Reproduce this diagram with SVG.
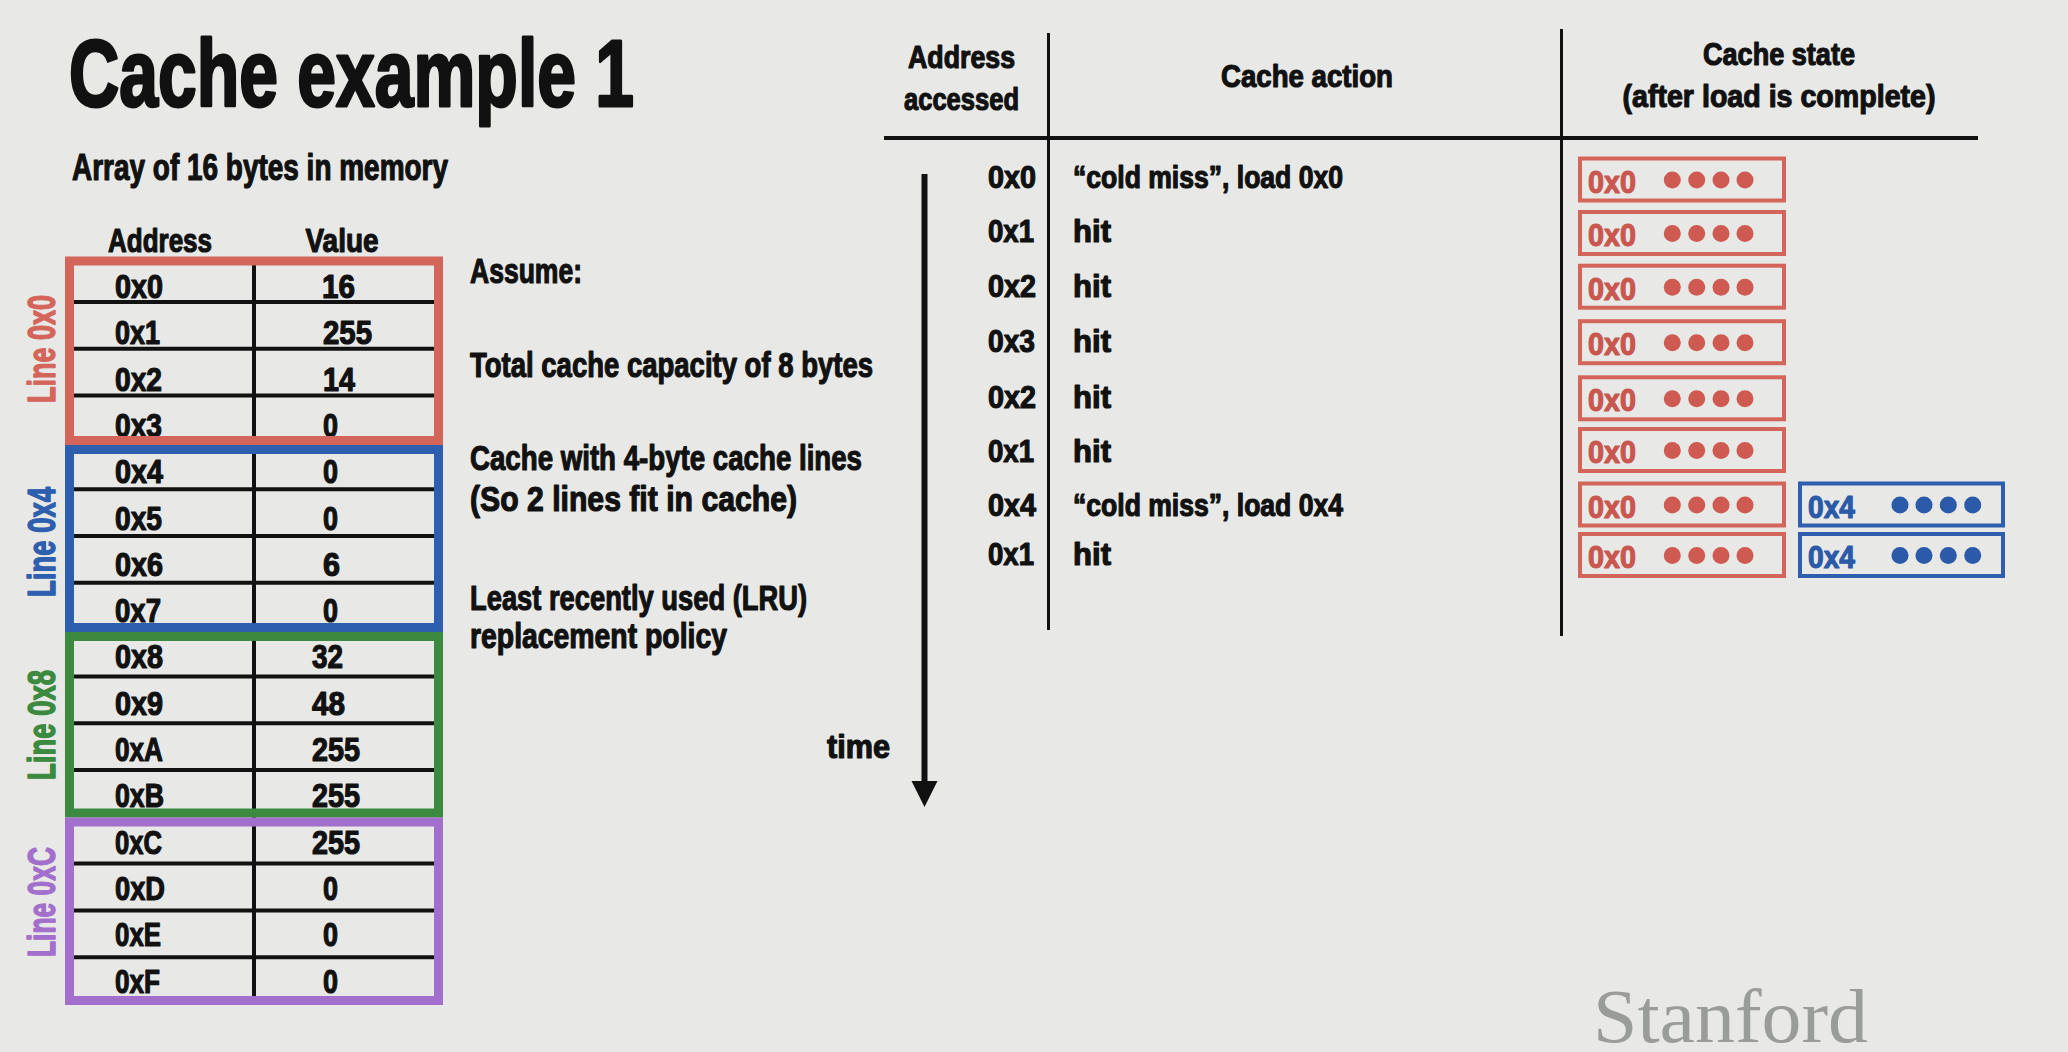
<svg xmlns="http://www.w3.org/2000/svg" width="2068" height="1052" viewBox="0 0 2068 1052">
<style>
.t{font-family:"Liberation Sans",Arial,sans-serif;font-weight:bold;fill:#111;stroke:#111;stroke-width:1.2;stroke-linejoin:round}
.c{font-size:33px}
.h{font-size:32px}
.s{font-size:35px}
.grid{stroke:#111;stroke-width:4}
.band{fill:none;stroke-width:9}
.red{stroke:#d4655b}.blue{stroke:#2e5fae}.green{stroke:#3b8a3f}.purple{stroke:#a36fcc}
.lbl{font-size:39px;text-anchor:middle;stroke-width:1.4}
.cbox{fill:none;stroke-width:4}
.rdot{fill:#cf5a51}.bdot{fill:#2a5aa8}
.rtx{fill:#c9574f;stroke:#c9574f}.btx{fill:#2a5aa8;stroke:#2a5aa8}
</style>
<defs>
<marker id="ah" markerUnits="userSpaceOnUse" markerWidth="27" markerHeight="27" refX="0" refY="13" orient="auto" viewBox="0 0 27 27">
<path d="M0,0 L26,13 L0,26 z" fill="#111"/>
</marker>
</defs>
<rect width="2068" height="1052" fill="#e8e9e6"/>

<g id="title"><text class="t" x="69" y="106" font-size="95" style="stroke-width:3" textLength="565" lengthAdjust="spacingAndGlyphs">Cache example 1</text></g>
<g id="subtitle"><text class="t" x="72" y="180" font-size="36" textLength="376" lengthAdjust="spacingAndGlyphs">Array of 16 bytes in memory</text></g>

<g id="memory-table">
<text class="t" x="160" y="252" font-size="34" text-anchor="middle" textLength="104" lengthAdjust="spacingAndGlyphs">Address</text>
<text class="t" x="342" y="252" font-size="34" text-anchor="middle" textLength="73" lengthAdjust="spacingAndGlyphs">Value</text>
<g class="grid">
<line x1="74" y1="302" x2="434" y2="302"/>
<line x1="74" y1="348.8" x2="434" y2="348.8"/>
<line x1="74" y1="395.6" x2="434" y2="395.6"/>
<line x1="74" y1="489.2" x2="434" y2="489.2"/>
<line x1="74" y1="536" x2="434" y2="536"/>
<line x1="74" y1="582.8" x2="434" y2="582.8"/>
<line x1="74" y1="676.4" x2="434" y2="676.4"/>
<line x1="74" y1="723.2" x2="434" y2="723.2"/>
<line x1="74" y1="770" x2="434" y2="770"/>
<line x1="74" y1="863.6" x2="434" y2="863.6"/>
<line x1="74" y1="910.4" x2="434" y2="910.4"/>
<line x1="74" y1="957.2" x2="434" y2="957.2"/>
<line x1="254" y1="258" x2="254" y2="1002"/>
</g>
<g class="t c">
<text x="115" y="298" textLength="48" lengthAdjust="spacingAndGlyphs">0x0</text>
<text x="115" y="344.3" textLength="45" lengthAdjust="spacingAndGlyphs">0x1</text>
<text x="115" y="390.6" textLength="47" lengthAdjust="spacingAndGlyphs">0x2</text>
<text x="115" y="436.9" textLength="47" lengthAdjust="spacingAndGlyphs">0x3</text>
<text x="115" y="483.2" textLength="48" lengthAdjust="spacingAndGlyphs">0x4</text>
<text x="115" y="529.5" textLength="47" lengthAdjust="spacingAndGlyphs">0x5</text>
<text x="115" y="575.8" textLength="48" lengthAdjust="spacingAndGlyphs">0x6</text>
<text x="115" y="622.1" textLength="46" lengthAdjust="spacingAndGlyphs">0x7</text>
<text x="115" y="668.4" textLength="48" lengthAdjust="spacingAndGlyphs">0x8</text>
<text x="115" y="714.7" textLength="48" lengthAdjust="spacingAndGlyphs">0x9</text>
<text x="115" y="761" textLength="48" lengthAdjust="spacingAndGlyphs">0xA</text>
<text x="115" y="807.3" textLength="49" lengthAdjust="spacingAndGlyphs">0xB</text>
<text x="115" y="853.6" textLength="47" lengthAdjust="spacingAndGlyphs">0xC</text>
<text x="115" y="899.9" textLength="50" lengthAdjust="spacingAndGlyphs">0xD</text>
<text x="115" y="946.2" textLength="46" lengthAdjust="spacingAndGlyphs">0xE</text>
<text x="115" y="992.5" textLength="45" lengthAdjust="spacingAndGlyphs">0xF</text>
<text x="322" y="298" textLength="33" lengthAdjust="spacingAndGlyphs">16</text>
<text x="323" y="344.3" textLength="49" lengthAdjust="spacingAndGlyphs">255</text>
<text x="323" y="390.6" textLength="32" lengthAdjust="spacingAndGlyphs">14</text>
<text x="323" y="436.9" textLength="15" lengthAdjust="spacingAndGlyphs">0</text>
<text x="323" y="483.2" textLength="15" lengthAdjust="spacingAndGlyphs">0</text>
<text x="323" y="529.5" textLength="15" lengthAdjust="spacingAndGlyphs">0</text>
<text x="323" y="575.8" textLength="17" lengthAdjust="spacingAndGlyphs">6</text>
<text x="323" y="622.1" textLength="15" lengthAdjust="spacingAndGlyphs">0</text>
<text x="312" y="668.4" textLength="31" lengthAdjust="spacingAndGlyphs">32</text>
<text x="312" y="714.7" textLength="33" lengthAdjust="spacingAndGlyphs">48</text>
<text x="312" y="761" textLength="48" lengthAdjust="spacingAndGlyphs">255</text>
<text x="312" y="807.3" textLength="48" lengthAdjust="spacingAndGlyphs">255</text>
<text x="312" y="853.6" textLength="48" lengthAdjust="spacingAndGlyphs">255</text>
<text x="323" y="899.9" textLength="15" lengthAdjust="spacingAndGlyphs">0</text>
<text x="323" y="946.2" textLength="15" lengthAdjust="spacingAndGlyphs">0</text>
<text x="323" y="992.5" textLength="15" lengthAdjust="spacingAndGlyphs">0</text>
</g>
</g>

<g id="line-0x0"><rect class="band red" x="69.5" y="261" width="369" height="179.5"/>
<text class="t lbl" style="fill:#d4655b;stroke:#d4655b" transform="translate(55,349) rotate(-90)" textLength="108" lengthAdjust="spacingAndGlyphs">Line 0x0</text></g>
<g id="line-0x4"><rect class="band blue" x="69.5" y="449.5" width="369" height="178"/>
<text class="t lbl" style="fill:#2e5fae;stroke:#2e5fae" transform="translate(55,542) rotate(-90)" textLength="110" lengthAdjust="spacingAndGlyphs">Line 0x4</text></g>
<g id="line-0x8"><rect class="band green" x="69.5" y="636.5" width="369" height="176.5"/>
<text class="t lbl" style="fill:#3b8a3f;stroke:#3b8a3f" transform="translate(55,725) rotate(-90)" textLength="110" lengthAdjust="spacingAndGlyphs">Line 0x8</text></g>
<g id="line-0xC"><rect class="band purple" x="69.5" y="822" width="369" height="178.5"/>
<text class="t lbl" style="fill:#a36fcc;stroke:#a36fcc" transform="translate(55,902) rotate(-90)" textLength="110" lengthAdjust="spacingAndGlyphs">Line 0xC</text></g>

<g id="assumptions" class="t s">
<text x="470" y="283" textLength="112" lengthAdjust="spacingAndGlyphs">Assume:</text>
<text x="470" y="377" textLength="403" lengthAdjust="spacingAndGlyphs">Total cache capacity of 8 bytes</text>
<text x="470" y="470" textLength="392" lengthAdjust="spacingAndGlyphs">Cache with 4-byte cache lines</text>
<text x="470" y="511" textLength="327" lengthAdjust="spacingAndGlyphs">(So 2 lines fit in cache)</text>
<text x="470" y="610" textLength="337" lengthAdjust="spacingAndGlyphs">Least recently used (LRU)</text>
<text x="470" y="648" textLength="257" lengthAdjust="spacingAndGlyphs">replacement policy</text>
</g>

<g id="connectors">
<line x1="884" y1="138" x2="1978" y2="138" stroke="#111" stroke-width="4"/>
<line x1="1048.5" y1="33" x2="1048.5" y2="630" stroke="#111" stroke-width="3"/>
<line x1="1561.5" y1="29" x2="1561.5" y2="636" stroke="#111" stroke-width="3"/>
<line id="time-arrow" x1="924.5" y1="174" x2="924.5" y2="781" stroke="#111" stroke-width="6" marker-end="url(#ah)"/>
</g>

<g id="time-label"><text class="t" x="827" y="758" font-size="33" textLength="63" lengthAdjust="spacingAndGlyphs">time</text></g>

<g id="headers" class="t h">
<text x="961.5" y="68" text-anchor="middle" textLength="107" lengthAdjust="spacingAndGlyphs">Address</text>
<text x="961.5" y="110" text-anchor="middle" textLength="115" lengthAdjust="spacingAndGlyphs">accessed</text>
<text x="1307" y="87" text-anchor="middle" textLength="172" lengthAdjust="spacingAndGlyphs">Cache action</text>
<text x="1779" y="65" text-anchor="middle" textLength="152" lengthAdjust="spacingAndGlyphs">Cache state</text>
<text x="1779" y="107" text-anchor="middle" textLength="313" lengthAdjust="spacingAndGlyphs">(after load is complete)</text>
</g>

<g id="accesses" class="t h">
<text x="988" y="188" textLength="48" lengthAdjust="spacingAndGlyphs">0x0</text>
<text x="988" y="242" textLength="46" lengthAdjust="spacingAndGlyphs">0x1</text>
<text x="988" y="297" textLength="48" lengthAdjust="spacingAndGlyphs">0x2</text>
<text x="988" y="352" textLength="47" lengthAdjust="spacingAndGlyphs">0x3</text>
<text x="988" y="408" textLength="48" lengthAdjust="spacingAndGlyphs">0x2</text>
<text x="988" y="462" textLength="46" lengthAdjust="spacingAndGlyphs">0x1</text>
<text x="988" y="516" textLength="48" lengthAdjust="spacingAndGlyphs">0x4</text>
<text x="988" y="565" textLength="46" lengthAdjust="spacingAndGlyphs">0x1</text>
</g>

<g id="actions" class="t h">
<text x="1073" y="188" textLength="270" lengthAdjust="spacingAndGlyphs">“cold miss”, load 0x0</text>
<text x="1073" y="242" textLength="38" lengthAdjust="spacingAndGlyphs">hit</text>
<text x="1073" y="297" textLength="38" lengthAdjust="spacingAndGlyphs">hit</text>
<text x="1073" y="352" textLength="38" lengthAdjust="spacingAndGlyphs">hit</text>
<text x="1073" y="408" textLength="38" lengthAdjust="spacingAndGlyphs">hit</text>
<text x="1073" y="462" textLength="38" lengthAdjust="spacingAndGlyphs">hit</text>
<text x="1073" y="516" textLength="270" lengthAdjust="spacingAndGlyphs">“cold miss”, load 0x4</text>
<text x="1073" y="565" textLength="38" lengthAdjust="spacingAndGlyphs">hit</text>
</g>

<g id="cache-state">
<g id="cs1" transform="translate(0,179.5)"><rect class="cbox red" x="1580" y="-21" width="204" height="42"/><text class="t h rtx" x="1588" y="13" textLength="48" lengthAdjust="spacingAndGlyphs">0x0</text><circle class="rdot" cx="1672.3" cy="0.5" r="8.5"/><circle class="rdot" cx="1696.7" cy="0.5" r="8.5"/><circle class="rdot" cx="1721" cy="0.5" r="8.5"/><circle class="rdot" cx="1745" cy="0.5" r="8.5"/></g>
<g id="cs2" transform="translate(0,233)"><rect class="cbox red" x="1580" y="-21" width="204" height="42"/><text class="t h rtx" x="1588" y="13" textLength="48" lengthAdjust="spacingAndGlyphs">0x0</text><circle class="rdot" cx="1672.3" cy="0.5" r="8.5"/><circle class="rdot" cx="1696.7" cy="0.5" r="8.5"/><circle class="rdot" cx="1721" cy="0.5" r="8.5"/><circle class="rdot" cx="1745" cy="0.5" r="8.5"/></g>
<g id="cs3" transform="translate(0,286.7)"><rect class="cbox red" x="1580" y="-21" width="204" height="42"/><text class="t h rtx" x="1588" y="13" textLength="48" lengthAdjust="spacingAndGlyphs">0x0</text><circle class="rdot" cx="1672.3" cy="0.5" r="8.5"/><circle class="rdot" cx="1696.7" cy="0.5" r="8.5"/><circle class="rdot" cx="1721" cy="0.5" r="8.5"/><circle class="rdot" cx="1745" cy="0.5" r="8.5"/></g>
<g id="cs4" transform="translate(0,342.2)"><rect class="cbox red" x="1580" y="-21" width="204" height="42"/><text class="t h rtx" x="1588" y="13" textLength="48" lengthAdjust="spacingAndGlyphs">0x0</text><circle class="rdot" cx="1672.3" cy="0.5" r="8.5"/><circle class="rdot" cx="1696.7" cy="0.5" r="8.5"/><circle class="rdot" cx="1721" cy="0.5" r="8.5"/><circle class="rdot" cx="1745" cy="0.5" r="8.5"/></g>
<g id="cs5" transform="translate(0,398.3)"><rect class="cbox red" x="1580" y="-21" width="204" height="42"/><text class="t h rtx" x="1588" y="13" textLength="48" lengthAdjust="spacingAndGlyphs">0x0</text><circle class="rdot" cx="1672.3" cy="0.5" r="8.5"/><circle class="rdot" cx="1696.7" cy="0.5" r="8.5"/><circle class="rdot" cx="1721" cy="0.5" r="8.5"/><circle class="rdot" cx="1745" cy="0.5" r="8.5"/></g>
<g id="cs6" transform="translate(0,450)"><rect class="cbox red" x="1580" y="-21" width="204" height="42"/><text class="t h rtx" x="1588" y="13" textLength="48" lengthAdjust="spacingAndGlyphs">0x0</text><circle class="rdot" cx="1672.3" cy="0.5" r="8.5"/><circle class="rdot" cx="1696.7" cy="0.5" r="8.5"/><circle class="rdot" cx="1721" cy="0.5" r="8.5"/><circle class="rdot" cx="1745" cy="0.5" r="8.5"/></g>
<g id="cs7" transform="translate(0,504.5)"><rect class="cbox red" x="1580" y="-21" width="204" height="42"/><text class="t h rtx" x="1588" y="13" textLength="48" lengthAdjust="spacingAndGlyphs">0x0</text><circle class="rdot" cx="1672.3" cy="0.5" r="8.5"/><circle class="rdot" cx="1696.7" cy="0.5" r="8.5"/><circle class="rdot" cx="1721" cy="0.5" r="8.5"/><circle class="rdot" cx="1745" cy="0.5" r="8.5"/>
<rect class="cbox blue" x="1800" y="-21" width="203" height="42"/><text class="t h btx" x="1808" y="13" textLength="47" lengthAdjust="spacingAndGlyphs">0x4</text><circle class="bdot" cx="1900" cy="0.5" r="8.5"/><circle class="bdot" cx="1924" cy="0.5" r="8.5"/><circle class="bdot" cx="1948.3" cy="0.5" r="8.5"/><circle class="bdot" cx="1972.7" cy="0.5" r="8.5"/></g>
<g id="cs8" transform="translate(0,555)"><rect class="cbox red" x="1580" y="-21" width="204" height="42"/><text class="t h rtx" x="1588" y="13" textLength="48" lengthAdjust="spacingAndGlyphs">0x0</text><circle class="rdot" cx="1672.3" cy="0.5" r="8.5"/><circle class="rdot" cx="1696.7" cy="0.5" r="8.5"/><circle class="rdot" cx="1721" cy="0.5" r="8.5"/><circle class="rdot" cx="1745" cy="0.5" r="8.5"/>
<rect class="cbox blue" x="1800" y="-21" width="203" height="42"/><text class="t h btx" x="1808" y="13" textLength="47" lengthAdjust="spacingAndGlyphs">0x4</text><circle class="bdot" cx="1900" cy="0.5" r="8.5"/><circle class="bdot" cx="1924" cy="0.5" r="8.5"/><circle class="bdot" cx="1948.3" cy="0.5" r="8.5"/><circle class="bdot" cx="1972.7" cy="0.5" r="8.5"/></g>
</g>

<g id="logo"><text x="1593" y="1042" font-family="'Liberation Serif','Times New Roman',serif" font-size="77" fill="#9a9c99" textLength="275" lengthAdjust="spacingAndGlyphs">Stanford</text></g>
</svg>
